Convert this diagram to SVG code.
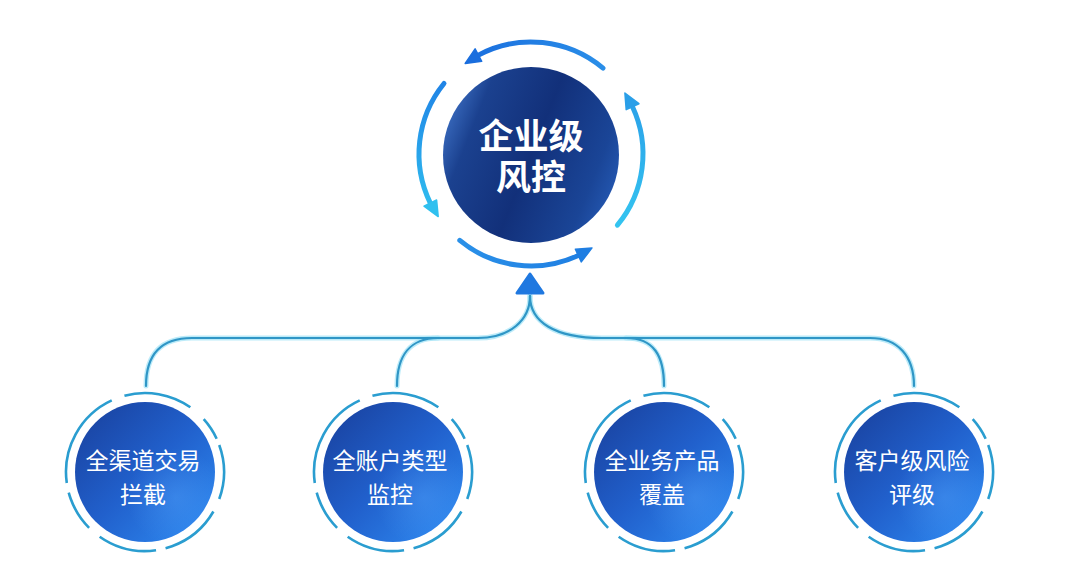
<svg xmlns="http://www.w3.org/2000/svg" width="1080" height="576" viewBox="0 0 1080 576">
<defs>
<linearGradient id="gCenter" x1="0" y1="0.3" x2="1" y2="0.7">
<stop offset="0" stop-color="#3a6cc0"/>
<stop offset="0.16" stop-color="#1b418f"/>
<stop offset="0.5" stop-color="#12307a"/>
<stop offset="0.85" stop-color="#1a4597"/>
<stop offset="1" stop-color="#2458b2"/>
</linearGradient>
<linearGradient id="gNode" x1="0.1" y1="0.1" x2="0.9" y2="0.9">
<stop offset="0" stop-color="#1a45a4"/>
<stop offset="0.5" stop-color="#2160cc"/>
<stop offset="1" stop-color="#2c84ec"/>
</linearGradient>
<radialGradient id="gGloss" cx="0.72" cy="0.68" r="0.35">
<stop offset="0" stop-color="#5aa8ff" stop-opacity="0.35"/>
<stop offset="1" stop-color="#5aa8ff" stop-opacity="0"/>
</radialGradient>
<linearGradient id="gTop" gradientUnits="userSpaceOnUse" x1="603" y1="68" x2="465" y2="63">
<stop offset="0" stop-color="#2a8ee8"/>
<stop offset="1" stop-color="#1a6ede"/>
</linearGradient>
<linearGradient id="gLeft" gradientUnits="userSpaceOnUse" x1="444" y1="83" x2="438" y2="217">
<stop offset="0" stop-color="#2084e6"/>
<stop offset="1" stop-color="#30c0ef"/>
</linearGradient>
<linearGradient id="gBottom" gradientUnits="userSpaceOnUse" x1="460" y1="240" x2="592" y2="248">
<stop offset="0" stop-color="#2a90e8"/>
<stop offset="1" stop-color="#1f7ee2"/>
</linearGradient>
<linearGradient id="gRight" gradientUnits="userSpaceOnUse" x1="617" y1="225" x2="625" y2="93">
<stop offset="0" stop-color="#34c4f0"/>
<stop offset="1" stop-color="#2a9fe8"/>
</linearGradient>
<style>
.arc{fill:none;stroke-width:5;stroke-linecap:round}
.ring{fill:none;stroke:#2a9dd0;stroke-width:2.6}
.conn-glow{fill:none;stroke:#9fe2f7;stroke-width:5;stroke-linecap:round;opacity:0.7}
.conn{fill:none;stroke:#2f96c6;stroke-width:2.2;stroke-linecap:round}
.ntext{font-family:"Noto Sans CJK SC","Noto Sans",sans-serif;font-size:23px;fill:#ffffff;text-anchor:middle}
.ctext{font-family:"Liberation Sans","Noto Sans CJK SC",sans-serif;font-size:35px;font-weight:bold;fill:#ffffff;text-anchor:middle}
</style>
</defs>
<rect width="1080" height="576" fill="#ffffff"/>

<g id="connectors">
<g>
<path class="conn-glow" d="M146,386 C146,355 160,338 192,338 H478 C510,338 530,320 530,296"/>
<path class="conn-glow" d="M397,386 C397,356 410,338 438,338"/>
<path class="conn-glow" d="M530,296 C530,322 555,338 602,338 H870 C898,338 914,356 914,386"/>
<path class="conn-glow" d="M664,386 C664,356 654,338 626,338"/>
</g>
<path class="conn" d="M146,386 C146,355 160,338 192,338 H478 C510,338 530,320 530,296"/>
<path class="conn" d="M397,386 C397,356 410,338 438,338"/>
<path class="conn" d="M530,296 C530,322 555,338 602,338 H870 C898,338 914,356 914,386"/>
<path class="conn" d="M664,386 C664,356 654,338 626,338"/>
<polygon points="530,274 517,293 543,293" fill="#1f78e0" stroke="#1f78e0" stroke-width="3" stroke-linejoin="round"/>
</g>

<g id="center-node">
<path class="arc" stroke="url(#gTop)" d="M603,68.2 A112,112 0 0 0 478.4,55.1"/>
<polygon points="475.1,48.9 481.7,61.3 465.2,63.4" fill="#1a6ede" stroke="#1a6ede" stroke-width="1.5" stroke-linejoin="round"/>
<path class="arc" stroke="url(#gLeft)" d="M444,83.5 A112,112 0 0 0 430.3,203.1"/>
<polygon points="424,206.2 436.6,200 438.2,216.6" fill="#30c0ef" stroke="#30c0ef" stroke-width="1.5" stroke-linejoin="round"/>
<path class="arc" stroke="url(#gBottom)" d="M459.8,240.4 A112,112 0 0 0 578.3,255.5"/>
<polygon points="581.3,261.9 575.4,249.2 592,247.9" fill="#1f7ee2" stroke="#1f7ee2" stroke-width="1.5" stroke-linejoin="round"/>
<path class="arc" stroke="url(#gRight)" d="M617.4,225.2 A112,112 0 0 0 632.5,106.7"/>
<polygon points="638.9,103.7 626.2,109.6 624.9,93" fill="#2a9fe8" stroke="#2a9fe8" stroke-width="1.5" stroke-linejoin="round"/>
<circle cx="531" cy="155" r="88" fill="url(#gCenter)"/>
<text class="ctext" x="531" y="149">企业级</text>
<text class="ctext" x="531" y="190">风控</text>
</g>

<g id="node-1">
<circle class="ring" cx="145" cy="472" r="79" pathLength="360" stroke-dasharray="40 10 45 7 43 10 30 7 73 10 50 13 17 5" transform="rotate(-20 145 472)"/>
<circle cx="145" cy="472" r="70" fill="url(#gNode)"/>
<circle cx="145" cy="472" r="70" fill="url(#gGloss)"/>
<text class="ntext" x="143" y="469">全渠道交易</text>
<text class="ntext" x="143" y="503">拦截</text>
</g>

<g id="node-2">
<circle class="ring" cx="393" cy="472" r="79" pathLength="360" stroke-dasharray="40 10 45 7 43 10 30 7 73 10 50 13 17 5" transform="rotate(-20 393 472)"/>
<circle cx="393" cy="472" r="70" fill="url(#gNode)"/>
<circle cx="393" cy="472" r="70" fill="url(#gGloss)"/>
<text class="ntext" x="390" y="469">全账户类型</text>
<text class="ntext" x="390" y="503">监控</text>
</g>

<g id="node-3">
<circle class="ring" cx="664" cy="472" r="79" pathLength="360" stroke-dasharray="40 10 45 7 43 10 30 7 73 10 50 13 17 5" transform="rotate(-20 664 472)"/>
<circle cx="664" cy="472" r="70" fill="url(#gNode)"/>
<circle cx="664" cy="472" r="70" fill="url(#gGloss)"/>
<text class="ntext" x="662" y="469">全业务产品</text>
<text class="ntext" x="662" y="503">覆盖</text>
</g>

<g id="node-4">
<circle class="ring" cx="914" cy="472" r="79" pathLength="360" stroke-dasharray="40 10 45 7 43 10 30 7 73 10 50 13 17 5" transform="rotate(-20 914 472)"/>
<circle cx="914" cy="472" r="70" fill="url(#gNode)"/>
<circle cx="914" cy="472" r="70" fill="url(#gGloss)"/>
<text class="ntext" x="912" y="469">客户级风险</text>
<text class="ntext" x="912" y="503">评级</text>
</g>
</svg>
